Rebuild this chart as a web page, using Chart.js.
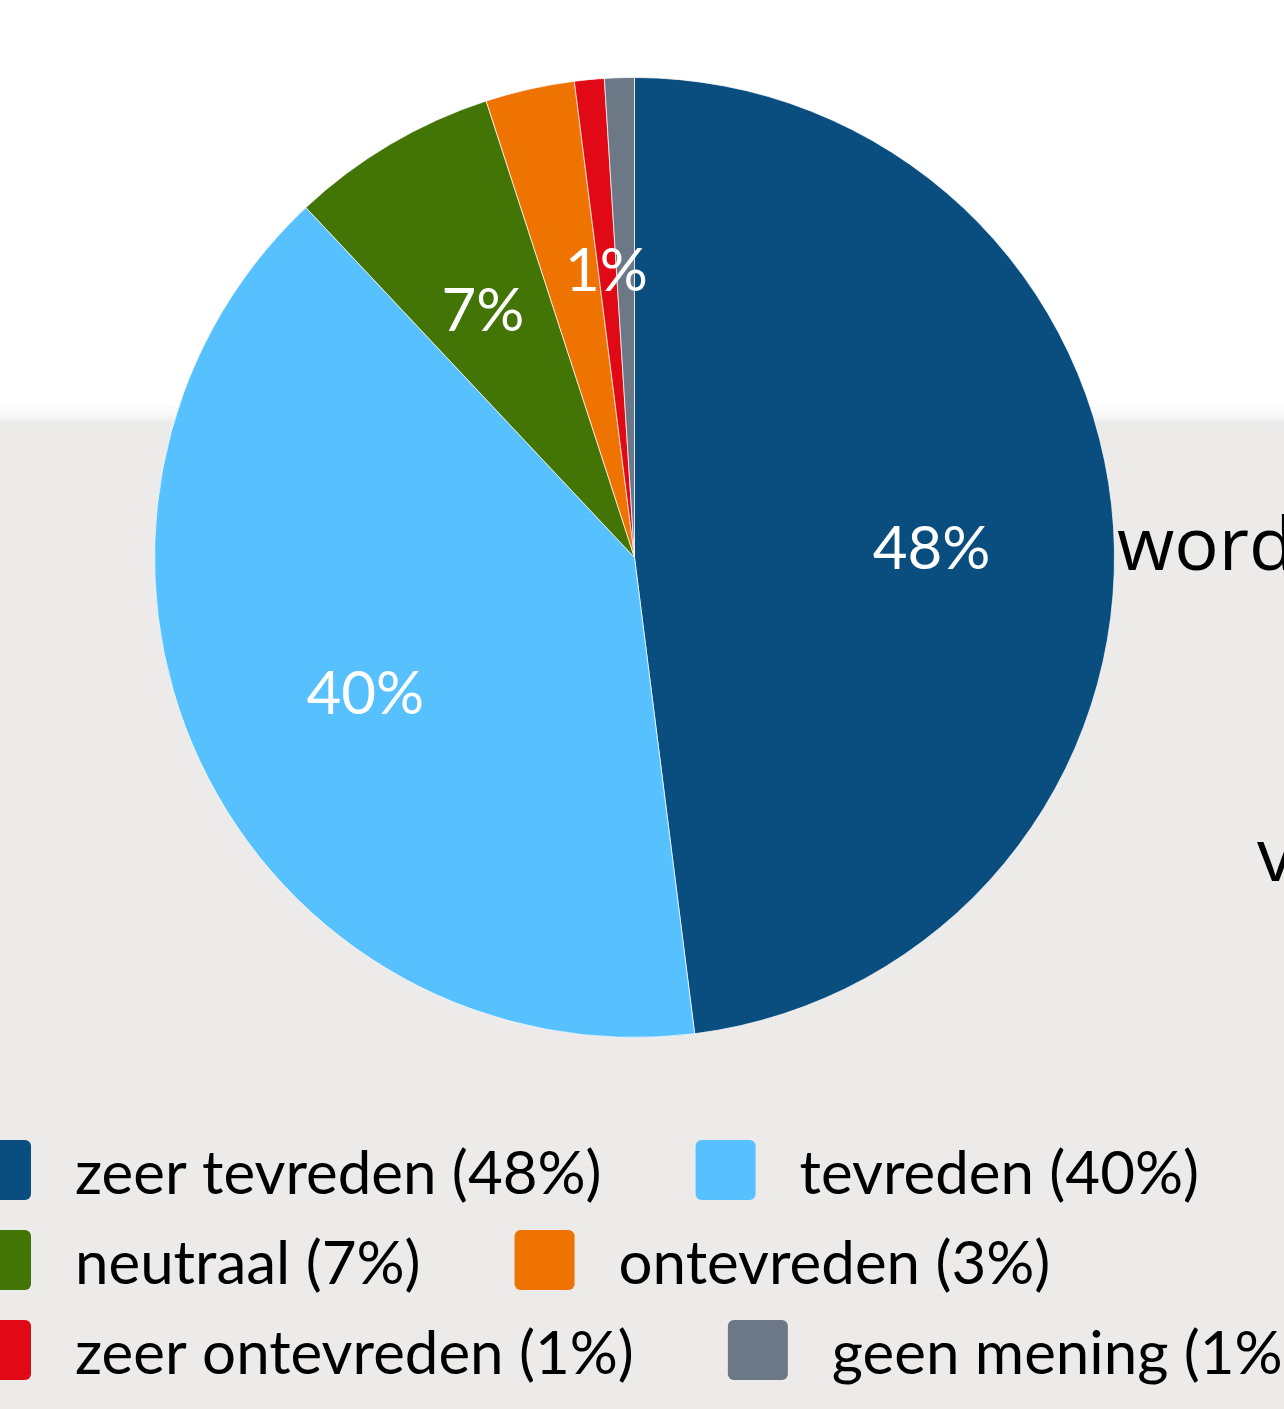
<!DOCTYPE html>
<html>
<head>
<meta charset="utf-8">
<title>Tevredenheid</title>
<script src="https://cdn.jsdelivr.net/npm/chart.js@4.4.0/dist/chart.umd.min.js"></script>
<style>
  html, body {
    margin: 0;
    padding: 0;
    width: 1284px;
    height: 1409px;
    overflow: hidden;
  }
  body {
    position: relative;
    background: linear-gradient(to bottom,
      #ffffff 0px, #ffffff 406px,
      #fafafa 408px, #fafafa 413px,
      #f3f3f3 418px, #e9e9e9 424px,
      #ecebe9 430px, #ecebe9 100%);
  }
  .page-text {
    position: absolute;
    font-family: "Open Sans", sans-serif;
    font-size: 74px;
    line-height: 1;
    color: #000;
    white-space: nowrap;
  }
  #chart-wrap {
    position: absolute;
    left: 0;
    top: 0;
    width: 1284px;
    height: 1409px;
  }
</style>
</head>
<body>
  <div class="page-text" style="left:1117px; top:505px;">word</div>
  <div class="page-text" style="left:1257px; top:816px;">v</div>
  <div id="chart-wrap"><canvas id="satisfactionChart"></canvas></div>

<script>
// answers, clockwise from 12 o'clock
const categories = ['zeer tevreden', 'tevreden', 'neutraal', 'ontevreden', 'zeer ontevreden', 'geen mening']
const percentages = [48, 40, 7, 3, 1, 1]
// which slices get a value label inside the pie (the crowded ones are left out)
const labelShown = [true, true, true, false, true, false]
const sliceColors = ['#0a4e80', '#56c1fe', '#427505', '#ef7301', '#e20917', '#6d7886']

const legendTexts = categories.map((c, i) => `${c} (${percentages[i]}%)`)

// white percentages inside the slices
const sliceLabels = {
  id: 'sliceLabels',
  afterDatasetsDraw(chart) {
    const ctx = chart.ctx
    const arcs = chart.getDatasetMeta(0).data
    ctx.save()
    ctx.font = '60px Lato'
    ctx.fillStyle = '#ffffff'
    ctx.textAlign = 'center'
    ctx.textBaseline = 'alphabetic'
    arcs.forEach((arc, i) => {
      if (!labelShown[i]) return
      const { x, y, startAngle, endAngle, outerRadius } = arc.getProps(['x', 'y', 'startAngle', 'endAngle', 'outerRadius'], true)
      const mid = (startAngle + endAngle) / 2
      const r = outerRadius * 0.62
      ctx.fillText(percentages[i] + '%', x + Math.cos(mid) * r, y + Math.sin(mid) * r + 30)
    })
    ctx.restore()
  }
}

// legend under the pie, two entries per row
const rowLegend = {
  id: 'rowLegend',
  afterDraw(chart) {
    const ctx = chart.ctx
    const box = 60
    const textGap = 44
    const itemGap = 94
    const rowTop = 1140
    const rowStep = 90
    ctx.save()
    ctx.font = '60px Lato'
    ctx.textAlign = 'left'
    ctx.textBaseline = 'alphabetic'
    let x = -29
    legendTexts.forEach((text, i) => {
      const row = Math.floor(i / 2)
      if (i % 2 === 0) x = -29
      const top = rowTop + row * rowStep
      ctx.fillStyle = sliceColors[i]
      ctx.beginPath()
      ctx.roundRect(x, top, box, box, 6)
      ctx.fill()
      ctx.fillStyle = '#000000'
      const tx = x + box + textGap
      ctx.fillText(text, tx, top + 54)
      x = tx + ctx.measureText(text).width + itemGap
    })
    ctx.restore()
  }
}

const ctx = document.getElementById('satisfactionChart').getContext('2d')

new Chart(ctx, {
  type: 'pie',
  data: {
    labels: categories,
    datasets: [{
      data: percentages,
      backgroundColor: sliceColors,
      borderColor: 'rgba(255,255,255,0.7)',
      borderWidth: 1
    }]
  },
  options: {
    responsive: true,
    maintainAspectRatio: false,
    animation: false,
    layout: {
      padding: { top: 77, bottom: 371, left: 154, right: 169 }
    },
    plugins: {
      legend: { display: false },
      tooltip: { enabled: false }
    }
  },
  plugins: [sliceLabels, rowLegend]
})
</script>
</body>
</html>
